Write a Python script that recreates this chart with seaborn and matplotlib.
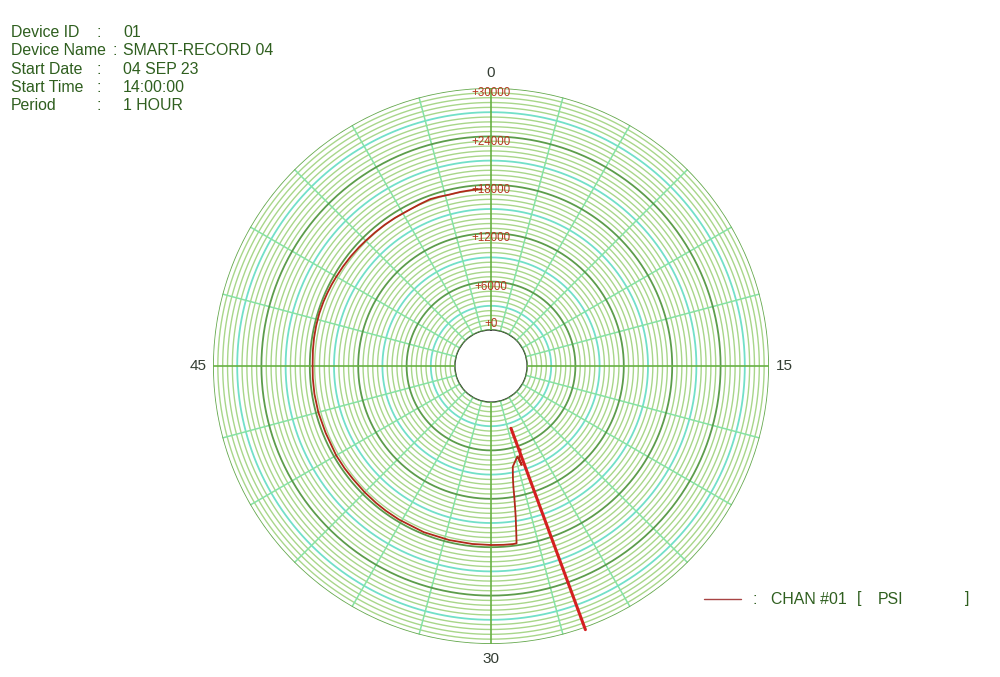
import numpy as np
import pandas as pd
import matplotlib
matplotlib.use("Agg")
import matplotlib.pyplot as plt
from matplotlib.lines import Line2D
import seaborn as sns

# header info
info_labels = ["Device ID", "Device Name", "Start Date", "Start Time", "Period"]
info_values = ["01", "SMART-RECORD 04", "04 SEP 23", "14:00:00", "1 HOUR"]

# chart scale
scale_ticks = [0, 6000, 12000, 18000, 24000, 30000]
scale_labels = ["+0", "+6000", "+12000", "+18000", "+24000", "+30000"]
minute_ticks = [0, 15, 30, 45]

# trace, angle in degrees clockwise from top, value in PSI
trace_angle = [160.4, 163.0, 162.8, 163.8, 165.9, 167.8, 169.0, 169.5, 169.9,
               170.3, 170.7, 171.3, 171.8, 172.9, 176, 180, 186, 193.5, 202,
               211, 216, 220, 225, 230.6, 235, 240, 248, 255, 261, 266, 270,
               275, 279, 283, 287, 291, 294, 297, 300, 304, 308, 312, 315,
               319, 323, 327, 332, 336, 340, 343, 346.3, 350, 353.8, 357]
trace_value = [6500, 7510, 8380, 7240, 7760, 8310, 9800, 10750, 12000,
               13200, 14470, 16200, 17750, 17780, 17760, 17730, 17720, 17730,
               17760, 17730, 17720, 17700, 17680, 17650, 17680, 17700, 17650,
               17700, 17700, 17680, 17650, 17700, 17750, 17780, 17800, 17780,
               17750, 17720, 17680, 17640, 17600, 17550, 17500, 17470, 17450,
               17420, 17380, 17450, 17550, 17480, 17400, 17450, 17480, 17500]

# current position marker
marker_angle = [162.2, 160.3]
marker_value = [3650, 30250]

sns.set_style("white")
plt.rcParams["font.family"] = ["Liberation Sans", "DejaVu Sans"]

text_green = "#2f5f1f"

fig = plt.figure(figsize=(10, 6.77), dpi=100)
ax = fig.add_axes([0.213, 0.04874, 0.556, 0.82127], projection="polar")
ax.set_theta_zero_location("N")
ax.set_theta_direction(-1)
ax.set_rorigin(-4463)
ax.set_rlim(0, 30000)
ax.grid(False)
ax.set_xticks([])
ax.set_yticks([])
ax.spines["polar"].set_visible(False)

theta = np.linspace(0, 2 * np.pi, 721)

# circles
for v in range(600, 30000, 600):
    if v % 3000 == 0:
        continue
    ax.plot(theta, np.full_like(theta, v), color="#a8d68a", lw=1.0, zorder=1)
for v in range(3000, 30000, 6000):
    ax.plot(theta, np.full_like(theta, v), color="#72e0c8", lw=1.3, zorder=2)

# spokes every 15 degrees
for a in range(0, 360, 15):
    if a % 90 == 0:
        continue
    ax.plot([np.deg2rad(a)] * 2, [0, 30000], color="#86e2a4", lw=1.1, zorder=3)

for v in scale_ticks[:-1]:
    ax.plot(theta, np.full_like(theta, v), color="#5c9c4a", lw=1.3, zorder=4)
ax.plot(theta, np.full_like(theta, 30000), color="#64a84c", lw=1.2, zorder=4)

for a in range(0, 360, 90):
    ax.plot([np.deg2rad(a)] * 2, [0, 30000], color="#68b044", lw=1.2, zorder=4)

# scale labels along the top spoke
for v, lab in zip(scale_ticks, scale_labels):
    r = v + 750 if v == 0 else v - 650
    ax.text(0, r, lab, color="#b4381e", fontsize=8.3, ha="center", va="center",
            zorder=6)

for m in minute_ticks:
    ax.text(np.deg2rad(m * 6), 31900, str(m), color="#333d33", fontsize=11,
            ha="center", va="center", clip_on=False)

# trace
df = pd.DataFrame({"theta": np.deg2rad(trace_angle), "psi": trace_value})
sns.lineplot(data=df, x="theta", y="psi", ax=ax, sort=False, estimator=None,
             color="#b0281a", lw=1.3, zorder=7)
ax.plot(np.deg2rad(marker_angle), marker_value, color="#d42020", lw=2.2,
        zorder=8, clip_on=False)
ax.set_xlabel("")
ax.set_ylabel("")

# header block
for i, (lab, val) in enumerate(zip(info_labels, info_values)):
    y = 1 - (32.5 + i * 18.3) / 677
    fig.text(11 / 1000, y, lab, fontsize=11.4, color=text_green, va="center")
    colon_x = 112 if lab == "Device Name" else 97
    fig.text(colon_x / 1000, y, ":", fontsize=11.4, color=text_green, va="center")
    fig.text(123 / 1000, y, val, fontsize=11.4, color=text_green, va="center")

# legend
ly = 1 - 599 / 677
fig.add_artist(Line2D([704 / 1000, 741 / 1000], [ly, ly], color="#a84444", lw=1.0))
fig.text(752 / 1000, ly, ":", fontsize=11.4, color=text_green, va="center")
fig.text(771 / 1000, ly, "CHAN #01", fontsize=11.4, color=text_green, va="center")
fig.text(857 / 1000, ly, "[", fontsize=11.4, color=text_green, va="center")
fig.text(878 / 1000, ly, "PSI", fontsize=11.4, color=text_green, va="center")
fig.text(965 / 1000, ly, "]", fontsize=11.4, color=text_green, va="center")

fig.savefig("out.png", dpi=100, facecolor="white")
